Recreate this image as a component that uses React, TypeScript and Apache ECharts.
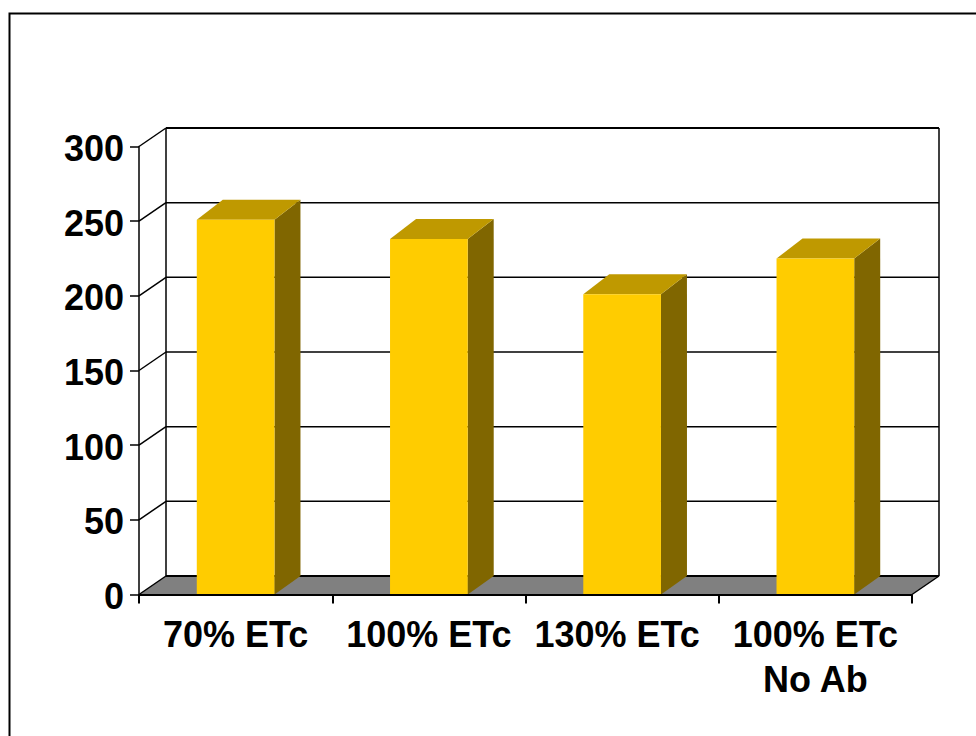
import React, { useEffect, useRef } from "react";
import * as echarts from "echarts";

const categories = ["70% ETc", "100% ETc", "130% ETc", "100% ETc\nNo Ab"];
const yieldValues = [251, 238, 201, 225];
const axisTicks = [0, 50, 100, 150, 200, 250, 300];

const FONT = '"Liberation Sans", Arial, sans-serif';
const DEPTH_X = 27;
const DEPTH_Y = 18.5;
const BAR_RATIO = 0.402;
const LINE = "#000000";

export default function App() {
  const ref = useRef<HTMLDivElement>(null);
  useEffect(() => {
    const chart = echarts.init(ref.current!, null, { renderer: "svg" });
    chart.setOption({
      animation: false,
      backgroundColor: "#ffffff",
      grid: { left: 139, top: 146.5, width: 773, height: 448 },
      graphic: [
        {
          type: "rect",
          silent: true,
          shape: { x: 9.5, y: 13.5, width: 1000, height: 760 },
          style: { fill: "none", stroke: "#000", lineWidth: 2 },
          z: 0,
        },
      ],
      xAxis: {
        type: "category",
        data: categories.map((c, i) =>
          i === 2 ? { value: c, textStyle: { padding: [0, 10, 0, 0] } } : c
        ),
        z: 5,
        axisLine: { show: true, lineStyle: { color: LINE, width: 2 } },
        axisTick: { show: true, length: 9, alignWithLabel: false, lineStyle: { color: LINE, width: 2 } },
        axisLabel: {
          color: "#000",
          fontFamily: FONT,
          fontWeight: "bold",
          fontSize: 36,
          lineHeight: 45,
          margin: 17,
          interval: 0,
          hideOverlap: false,
        },
      },
      yAxis: {
        type: "value",
        min: 0,
        max: 300,
        interval: 50,
        z: 5,
        splitLine: { show: false },
        axisLine: { show: true, lineStyle: { color: LINE, width: 1.5 } },
        axisTick: { show: true, length: 9, lineStyle: { color: LINE, width: 1.5 } },
        axisLabel: {
          margin: 15,
          formatter: "{t|{value}}",
          rich: {
            t: {
              color: "#000",
              fontFamily: FONT,
              fontWeight: "bold",
              fontSize: 36,
              padding: [4, 0, 0, 0],
            },
          },
        },
      },
      series: [
        {
          type: "custom",
          name: "walls",
          silent: true,
          z: 1,
          data: axisTicks.map((t) => [0, t]),
          encode: { x: 0, y: 1 },
          renderItem: (params: any, api: any) => {
            const cs = params.coordSys;
            const v = api.value(1);
            const y = api.coord([0, v])[1];
            const x0 = cs.x;
            const x1 = cs.x + cs.width;
            const by = y - DEPTH_Y;
            const line = (a: number, b: number, c: number, d: number, w = 1.5) => ({
              type: "line",
              shape: { x1: a, y1: b, x2: c, y2: d },
              style: { stroke: LINE, lineWidth: w },
            });
            const children: any[] = [];
            if (v === 0) {
              children.push({
                type: "polygon",
                shape: {
                  points: [
                    [x0, y],
                    [x0 + DEPTH_X, by],
                    [x1 + DEPTH_X, by],
                    [x1, y],
                  ],
                },
                style: { fill: "#808080" },
              });
              children.push(line(x1, y, x1 + DEPTH_X, by));
              children.push(line(x0 + DEPTH_X, by, x0 + DEPTH_X, cs.y - DEPTH_Y));
              children.push(line(x1 + DEPTH_X, by, x1 + DEPTH_X, cs.y - DEPTH_Y));
            }
            children.push(line(x0, y, x0 + DEPTH_X, by));
            children.push(line(x0 + DEPTH_X, by, x1 + DEPTH_X, by, v === 0 || v === 300 ? 2 : 1.5));
            return { type: "group", children };
          },
        },
        {
          type: "custom",
          name: "bars",
          silent: true,
          z: 2,
          data: yieldValues.map((v, i) => [i, v]),
          encode: { x: 0, y: 1 },
          renderItem: (_params: any, api: any) => {
            const top = api.coord([api.value(0), api.value(1)]);
            const base = api.coord([api.value(0), 0]);
            const w = api.size([1, 0])[0] * BAR_RATIO;
            const l = top[0] - w / 2;
            const r = top[0] + w / 2;
            return {
              type: "group",
              children: [
                {
                  type: "polygon",
                  shape: {
                    points: [
                      [r, top[1]],
                      [r + 26, top[1] - 20],
                      [r + 26, base[1] - DEPTH_Y],
                      [r, base[1]],
                    ],
                  },
                  style: { fill: "#806600" },
                },
                {
                  type: "polygon",
                  shape: {
                    points: [
                      [l, top[1]],
                      [l + 26, top[1] - 20],
                      [r + 26, top[1] - 20],
                      [r, top[1]],
                    ],
                  },
                  style: { fill: "#BF9900" },
                },
                {
                  type: "rect",
                  shape: { x: l, y: top[1], width: w, height: base[1] - top[1] },
                  style: { fill: "#FFCC00" },
                },
              ],
            };
          },
        },
      ],
    });
    return () => chart.dispose();
  }, []);
  return (
    <div
      ref={ref}
      style={{ position: "absolute", left: 0, top: 0, width: 976, height: 736 }}
    />
  );
}
